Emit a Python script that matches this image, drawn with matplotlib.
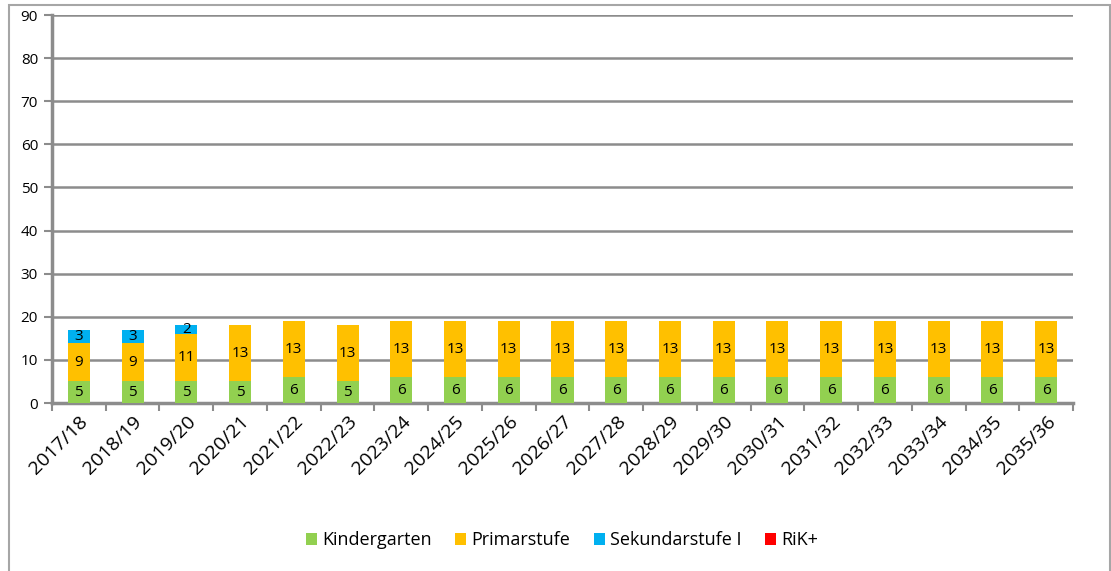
import numpy as np
import matplotlib.pyplot as plt
from matplotlib.patches import Rectangle

# Daten
jahre = ['2017/18', '2018/19', '2019/20', '2020/21', '2021/22', '2022/23', '2023/24',
         '2024/25', '2025/26', '2026/27', '2027/28', '2028/29', '2029/30', '2030/31',
         '2031/32', '2032/33', '2033/34', '2034/35', '2035/36']
kindergarten = [5, 5, 5, 5, 6, 5, 6, 6, 6, 6, 6, 6, 6, 6, 6, 6, 6, 6, 6]
primarstufe = [9, 9, 11, 13, 13, 13, 13, 13, 13, 13, 13, 13, 13, 13, 13, 13, 13, 13, 13]
sekundarstufe = [3, 3, 2, 0, 0, 0, 0, 0, 0, 0, 0, 0, 0, 0, 0, 0, 0, 0, 0]
rik = [0] * 19

serien = [('Kindergarten', kindergarten, '#92d050'),
          ('Primarstufe', primarstufe, '#ffc000'),
          ('Sekundarstufe I', sekundarstufe, '#00b0f0'),
          ('RiK+', rik, '#ff0000')]

plt.rcParams['font.family'] = ['Open Sans', 'DejaVu Sans']

fig = plt.figure(figsize=(11.11, 5.71), dpi=100)
ax = fig.add_axes([0.0468, 0.2942, 0.9190, 0.6795])

# Rahmen um das ganze Diagramm
fig.patches.append(Rectangle((0.008, -0.01), 0.991, 1.001, transform=fig.transFigure,
                             fill=False, edgecolor='#a6a6a6', linewidth=1.5))

x = np.arange(len(jahre))
unten = np.zeros(len(jahre))
for name, werte, farbe in serien:
    werte = np.array(werte, dtype=float)
    ax.bar(x, werte, 0.41, bottom=unten, color=farbe, label=name, zorder=3)
    for xi, b, w in zip(x, unten, werte):
        if w > 0:
            ax.text(xi, b + w / 2, str(int(w)), ha='center', va='center',
                    fontsize=11, color='black', zorder=4)
    unten += werte

ax.set_xlim(-0.5, len(jahre) - 0.5)
ax.set_ylim(0, 90)
ax.set_yticks(range(0, 91, 10))
ax.yaxis.grid(True, color='#8c8c8c', linewidth=1.8, zorder=0)
ax.set_axisbelow(True)

ax.set_xticks(x)
ax.set_xticklabels(jahre, rotation=45, ha='right', rotation_mode='anchor', fontsize=14)
ax.set_xticks(np.arange(-0.5, len(jahre)), minor=True)
ax.tick_params(axis='x', which='major', length=0, pad=7)
ax.tick_params(axis='x', which='minor', length=6, width=1.5, color='#8c8c8c', direction='out')
ax.tick_params(axis='y', length=6, width=1.5, color='#8c8c8c', labelsize=11, pad=4)

for s in ['top', 'right']:
    ax.spines[s].set_visible(False)
for s in ['left', 'bottom']:
    ax.spines[s].set_color('#8c8c8c')
    ax.spines[s].set_linewidth(2.5)

fig.legend(loc='center', bbox_to_anchor=(0.506, 0.054), ncol=4, frameon=False,
           fontsize=13, handlelength=0.6, handleheight=0.6, handletextpad=0.3,
           columnspacing=1.3)

fig.savefig('out.png', dpi=100)
